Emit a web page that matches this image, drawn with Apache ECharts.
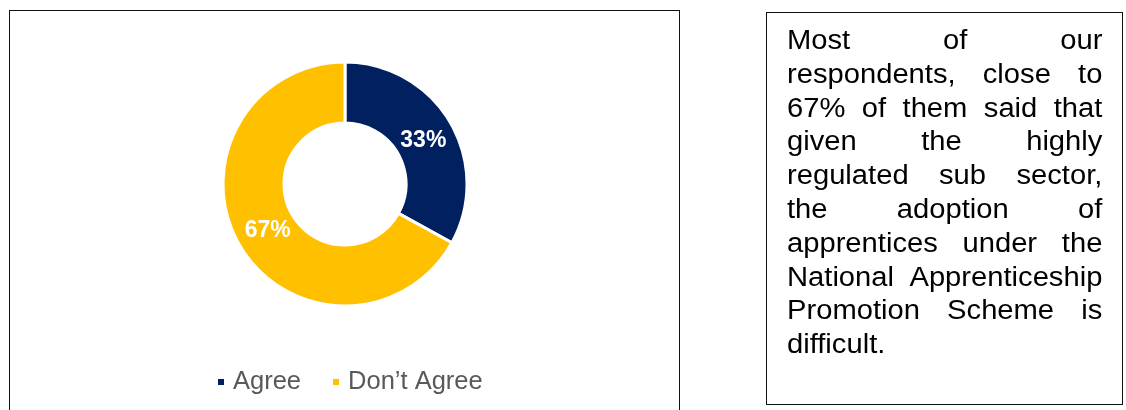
<!DOCTYPE html>
<html>
<head>
<meta charset="utf-8">
<script src="https://cdn.jsdelivr.net/npm/echarts@6/dist/echarts.min.js"></script>
<style>
  html, body { margin: 0; padding: 0; background: #fff; }
  #wrap { position: relative; width: 1126px; height: 410px; overflow: hidden; }
  #chart { position: absolute; left: 0; top: 0; width: 1126px; height: 410px; }
  #chartFrame {
    position: absolute; left: 9px; top: 10px; width: 671px; height: 420px;
    border: 1.5px solid #111; box-sizing: border-box; pointer-events: none;
  }
  #note {
    position: absolute; left: 766px; top: 12px; width: 357px; height: 393px;
    border: 1.5px solid #111; box-sizing: border-box;
  }
  #noteText {
    position: absolute; left: 20px; top: 11px; width: 292px;
    transform: scaleX(1.08); transform-origin: left top;
    font-family: "Liberation Sans", Arial, sans-serif; font-size: 27px;
    line-height: 33.8px; color: #000;
  }
  #noteText div { text-align: justify; text-align-last: justify; white-space: nowrap; }
  #noteText div.last { text-align-last: left; }
</style>
</head>
<body>
<div id="wrap">
  <div id="chart"></div>
  <div id="chartFrame"></div>
  <div id="note"><div id="noteText"></div></div>
</div>
<script>
// Survey responses (percent of respondents)
const categories = ['Agree', 'Don\u2019t Agree'];
const shares = [33, 67];
const colors = ['#002060', '#FFC000'];

// Commentary, one entry per printed line
const noteLines = [
  'Most of our',
  'respondents, close to',
  '67% of them said that',
  'given the highly',
  'regulated sub sector,',
  'the adoption of',
  'apprentices under the',
  'National Apprenticeship',
  'Promotion Scheme is',
  'difficult.'
];

const noteEl = document.getElementById('noteText');
noteLines.forEach((line, i) => {
  const d = document.createElement('div');
  d.textContent = line;
  if (i === noteLines.length - 1) d.className = 'last';
  noteEl.appendChild(d);
});

const chart = echarts.init(document.getElementById('chart'), null, { renderer: 'canvas' });
chart.setOption({
  animation: false,
  color: colors,
  legend: {
    data: categories,
    left: 211,
    top: 364,
    icon: 'rect',
    itemWidth: 8,
    itemHeight: 8,
    itemGap: 30,
    textStyle: {
      fontFamily: '"Liberation Sans", Arial, sans-serif',
      fontSize: 25.5,
      color: '#595959',
      padding: [0, 0, 0, 3]
    }
  },
  series: [{
    type: 'pie',
    center: [345, 184],
    radius: [61, 122],
    startAngle: 90,
    clockwise: true,
    avoidLabelOverlap: false,
    itemStyle: { borderColor: '#ffffff', borderWidth: 3 },
    label: {
      show: true,
      position: 'inside',
      formatter: '{c}%',
      color: '#ffffff',
      fontFamily: '"Liberation Sans", Arial, sans-serif',
      fontWeight: 'bold',
      fontSize: 23
    },
    labelLine: { show: false },
    emphasis: { disabled: true },
    data: categories.map((name, i) => ({
      name: name,
      value: shares[i],
      label: i === 0 ? { offset: [-3, 5] } : { offset: [4, -1] }
    }))
  }]
});
</script>
</body>
</html>
